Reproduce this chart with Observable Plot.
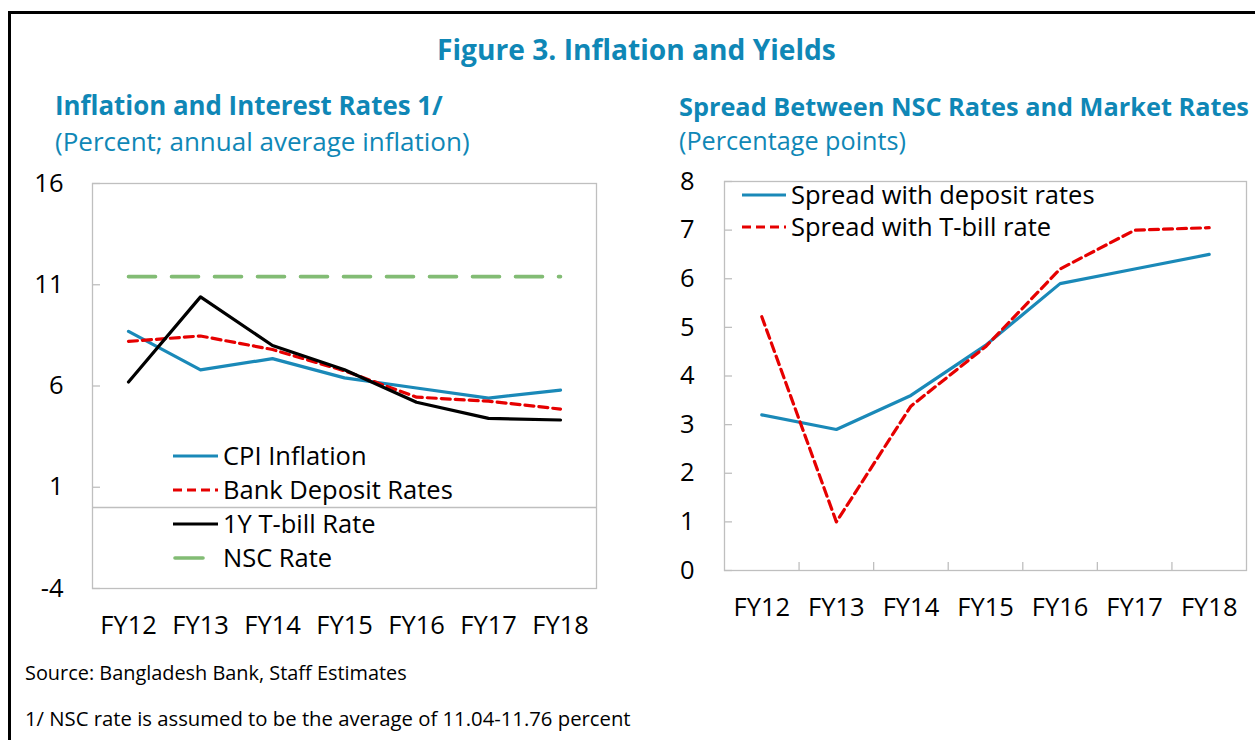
<!DOCTYPE html>
<html><head><meta charset="utf-8">
<script src="https://cdn.jsdelivr.net/npm/d3@7"></script>
<script src="https://cdn.jsdelivr.net/npm/@observablehq/plot@0.6"></script>
<style>
body{margin:0;background:#fff;font-family:"Open Sans",sans-serif;}
#root{position:relative;width:1255px;height:740px;overflow:hidden;background:#fff;}
.abs{position:absolute;white-space:nowrap;line-height:1;}
.blue{color:#0f87b6;}
.bold{font-weight:700;}
.legend{position:absolute;font-size:25.5px;color:#000;line-height:1;}
.legend .row{display:flex;align-items:center;white-space:nowrap;}
.legend svg{display:block;margin-right:5px;}
.chart{position:absolute;}
</style></head><body><div id="root"></div>
<script>
// ---------- data ----------
const years = ["FY12","FY13","FY14","FY15","FY16","FY17","FY18"];
const cpi = [8.7, 6.8, 7.35, 6.4, 5.9, 5.4, 5.8];
const deposit = [8.2, 8.47, 7.8, 6.75, 5.45, 5.25, 4.86];
const tbill = [6.2, 10.4, 8.0, 6.8, 5.2, 4.4, 4.32];
const nsc = [11.4, 11.4, 11.4, 11.4, 11.4, 11.4, 11.4];
const spreadDeposit = [3.2, 2.9, 3.6, 4.63, 5.9, 6.2, 6.5];
const spreadTbill = [5.22, 1.0, 3.38, 4.6, 6.2, 7.0, 7.05];
const leftTicks = [-4, 1, 6, 11, 16];
const rightTicks = [0, 1, 2, 3, 4, 5, 6, 7, 8];
const leftSeries = ["CPI Inflation", "Bank Deposit Rates", "1Y T-bill Rate", "NSC Rate"];
const rightSeries = ["Spread with deposit rates", "Spread with T-bill rate"];

// ---------- styles ----------
const BLUE = "#1a89b8", RED = "#e60000", BLACK = "#000000", GREEN = "#82bc74", GREY = "#bfbfbf";
const styles = {
  "CPI Inflation": {stroke: BLUE, strokeWidth: 3.2},
  "Bank Deposit Rates": {stroke: RED, strokeWidth: 3.2, strokeDasharray: "9,5"},
  "1Y T-bill Rate": {stroke: BLACK, strokeWidth: 3.2},
  "NSC Rate": {stroke: GREEN, strokeWidth: 3.6, strokeDasharray: "27,16", strokeLinecap: "round"},
  "Spread with deposit rates": {stroke: BLUE, strokeWidth: 3.2},
  "Spread with T-bill rate": {stroke: RED, strokeWidth: 3.2, strokeDasharray: "9,5"}
};
const TICK_FS = "25.5px";

const root = document.getElementById("root");
function addText(txt, cls, left, cy, fs, targetW) {
  const d = document.createElement("div");
  d.className = "abs " + cls;
  d.textContent = txt;
  d.style.left = left + "px";
  d.style.fontSize = fs + "px";
  root.appendChild(d);
  if (targetW) {
    const w = d.getBoundingClientRect().width;
    fs = fs * targetW / w;
    d.style.fontSize = fs + "px";
  }
  d.style.top = (cy - 0.53 * fs) + "px";
  return d;
}

// frame border
const border = document.createElement("div");
border.style.cssText = "position:absolute;left:8px;top:11px;width:1400px;height:900px;border-left:3px solid #000;border-top:3px solid #000;";
root.appendChild(border);

addText("Figure 3. Inflation and Yields", "blue bold", 437, 50, 26, 399);
addText("Inflation and Interest Rates 1/", "blue bold", 55, 107, 22, 388);
addText("(Percent; annual average inflation)", "blue", 55, 142, 22, 415);
addText("Spread Between NSC Rates and Market Rates", "blue bold", 679, 107, 22, 570);
addText("(Percentage points)", "blue", 679, 141, 22, 227);
addText("Source: Bangladesh Bank, Staff Estimates", "", 25, 674, 18, 382);
addText("1/ NSC rate is assumed to be the average of 11.04-11.76 percent", "", 25, 719, 18, 606);

const idx = d3.range(years.length);
const fmt = d => String(d);

// ---------- left chart ----------
{
  const W = 620, H = 500, mL = 92, mR = 24, mT = 23, mB = 72;
  const pw = W - mL - mR;
  const vals = {"CPI Inflation": cpi, "Bank Deposit Rates": deposit, "1Y T-bill Rate": tbill, "NSC Rate": nsc};
  const order = ["NSC Rate", "CPI Inflation", "Bank Deposit Rates", "1Y T-bill Rate"];
  const svg = Plot.plot({
    width: W, height: H, marginLeft: mL, marginRight: mR, marginTop: mT, marginBottom: mB,
    style: {fontFamily: "Open Sans", fontSize: TICK_FS, color: "#000", background: "transparent", overflow: "visible"},
    x: {domain: [-0.5, years.length - 0.5]},
    y: {domain: [leftTicks[0], leftTicks[leftTicks.length - 1]]},
    marks: [
      Plot.frame({stroke: GREY, strokeWidth: 1.3}),
      Plot.ruleY([0], {stroke: GREY, strokeWidth: 1.3}),
      Plot.ruleY(leftTicks, {stroke: GREY, strokeWidth: 1.3, insetRight: pw - 8}),
      Plot.axisY({ticks: leftTicks, tickFormat: fmt, tickSize: 0, tickPadding: 29, fill: "#000"}),
      Plot.axisX({ticks: idx, tickFormat: i => years[i], tickSize: 0, tickPadding: 27, fill: "#000"}),
      ...order.map(s => Plot.line(idx, {x: i => i, y: i => vals[s][i], ...styles[s]}))
    ]
  });
  svg.classList.add("chart");
  svg.style.left = "0px"; svg.style.top = "160px";
  root.appendChild(svg);
}

// ---------- right chart ----------
{
  const W = 595, H = 490, mL = 64, mR = 9, mT = 21, mB = 80;
  const ph = H - mT - mB;
  const vals = {"Spread with deposit rates": spreadDeposit, "Spread with T-bill rate": spreadTbill};
  const bounds = idx.slice(1).map(i => i - 0.5);
  const svg = Plot.plot({
    width: W, height: H, marginLeft: mL, marginRight: mR, marginTop: mT, marginBottom: mB,
    style: {fontFamily: "Open Sans", fontSize: TICK_FS, color: "#000", background: "transparent", overflow: "visible"},
    x: {domain: [-0.5, years.length - 0.5]},
    y: {domain: [rightTicks[0], rightTicks[rightTicks.length - 1]]},
    marks: [
      Plot.frame({stroke: GREY, strokeWidth: 1.3}),
      Plot.ruleY(rightTicks, {stroke: GREY, strokeWidth: 1.3, insetRight: (W - mL - mR) - 8}),
      Plot.ruleX(bounds, {stroke: GREY, strokeWidth: 1.3, insetTop: ph - 8}),
      Plot.axisY({ticks: rightTicks, tickFormat: fmt, tickSize: 0, tickPadding: 30, fill: "#000"}),
      Plot.axisX({ticks: idx, tickFormat: i => years[i], tickSize: 0, tickPadding: 27, fill: "#000"}),
      ...rightSeries.map(s => Plot.line(idx, {x: i => i, y: i => vals[s][i], ...styles[s]}))
    ]
  });
  svg.classList.add("chart");
  svg.style.left = "660px"; svg.style.top = "160px";
  root.appendChild(svg);
}

// ---------- legends ----------
function legend(names, left, top, rowH, lineW) {
  const L = document.createElement("div");
  L.className = "legend";
  L.style.left = left + "px"; L.style.top = top + "px";
  for (const n of names) {
    const st = styles[n];
    const row = document.createElement("div");
    row.className = "row";
    row.style.height = rowH + "px";
    const da = n === "NSC Rate" ? "28,14" : st.strokeDasharray;
    const dash = da ? `stroke-dasharray="${da}"` : "";
    const x1 = n === "NSC Rate" ? 2 : 0;
    const x2 = n === "NSC Rate" ? lineW - 1 : lineW;
    row.innerHTML = `<svg width="${lineW}" height="10"><line x1="${x1}" y1="5" x2="${x2}" y2="5" stroke="${st.stroke}" stroke-width="${st.strokeWidth}" ${dash} ${st.strokeLinecap ? 'stroke-linecap="round"' : ""}/></svg><span></span>`;
    row.querySelector("span").textContent = n;
    L.appendChild(row);
  }
  root.appendChild(L);
}
legend(leftSeries, 173, 439, 34, 45);
legend(rightSeries, 742, 179, 32, 44);
</script></body></html>
